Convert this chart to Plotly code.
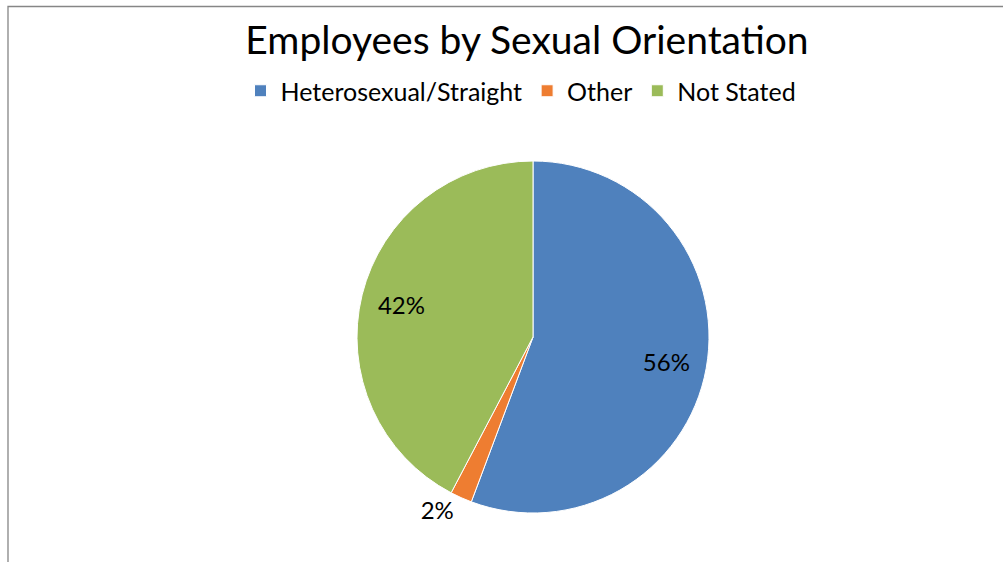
import plotly.graph_objects as go

categories = ["Heterosexual/Straight", "Other", "Not Stated"]
values = [55.7, 2.0, 42.3]
colors = ["#4F81BD", "#EE7D31", "#9BBB59"]
text_positions = ["inside", "outside", "inside"]

W, H = 1003, 562
cx, cy, R = 533, 337, 176
domain = dict(x=[(cx - R) / W, (cx + R) / W], y=[(H - cy - R) / H, (H - cy + R) / H])

fig = go.Figure()
# filled slices
fig.add_trace(go.Pie(
    labels=categories,
    values=values,
    sort=False,
    direction="clockwise",
    rotation=0,
    marker=dict(colors=colors, line=dict(color="white", width=1)),
    textinfo="none",
    domain=domain,
    hoverinfo="label+percent",
))
# transparent ring carrying the data labels
fig.add_trace(go.Pie(
    labels=categories,
    values=values,
    sort=False,
    direction="clockwise",
    rotation=0,
    hole=0.54,
    showlegend=False,
    marker=dict(colors=["rgba(0,0,0,0)"] * len(values), line=dict(width=0)),
    texttemplate="%{percent:.0%}",
    textposition=text_positions,
    insidetextorientation="horizontal",
    textfont=dict(family="Lato", size=24, color="black"),
    domain=domain,
    hoverinfo="skip",
))

fig.update_layout(
    width=W, height=H,
    margin=dict(l=0, r=0, t=0, b=0),
    paper_bgcolor="white",
    plot_bgcolor="white",
    font=dict(family="Lato", color="black"),
    title=dict(text="Employees by Sexual Orientation", x=527 / W, y=1 - 40 / H,
               xanchor="center", yanchor="middle",
               font=dict(family="Lato", size=39, color="black")),
    legend=dict(orientation="h", x=521 / W, y=1 - 91 / H, xanchor="center", yanchor="middle",
                font=dict(family="Lato", size=25, color="black"),
                itemwidth=30, tracegroupgap=0, bgcolor="rgba(0,0,0,0)"),
    shapes=[dict(type="rect", xref="paper", yref="paper",
                 x0=8 / W, x1=1.02, y0=-0.02, y1=1 - 6.5 / H,
                 line=dict(color="#868686", width=1.3), layer="below")],
)

fig.write_html("out.html", config={"displayModeBar": False},
               post_script="document.body.style.margin='0';")
